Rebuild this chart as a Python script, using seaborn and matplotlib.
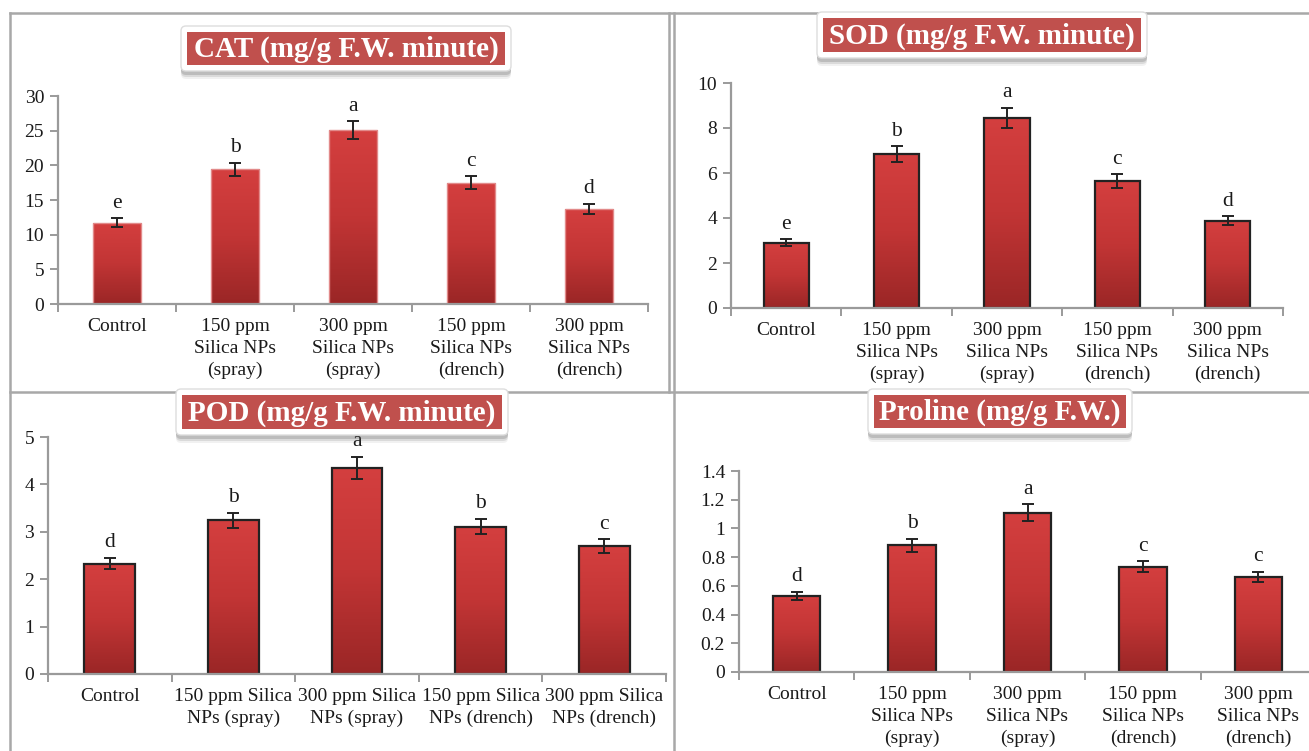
import numpy as np
import matplotlib
matplotlib.use("Agg")
import matplotlib.pyplot as plt
import seaborn as sns
from matplotlib.patches import FancyBboxPatch, Rectangle
from matplotlib.colors import LinearSegmentedColormap
from matplotlib.lines import Line2D
from matplotlib.transforms import Affine2D

# ---------------- data ----------------
categories = ["Control", "150 ppm\nSilica NPs\n(spray)", "300 ppm\nSilica NPs\n(spray)",
              "150 ppm\nSilica NPs\n(drench)", "300 ppm\nSilica NPs\n(drench)"]
categories_pod = ["Control", "150 ppm Silica\nNPs (spray)", "300 ppm Silica\nNPs (spray)",
                  "150 ppm Silica\nNPs (drench)", "300 ppm Silica\nNPs (drench)"]

cat_values = [11.7, 19.4, 25.1, 17.5, 13.7]
cat_errors = [0.65, 1.0, 1.25, 0.9, 0.72]
cat_letters = ["e", "b", "a", "c", "d"]

sod_values = [2.9, 6.83, 8.46, 5.64, 3.87]
sod_errors = [0.16, 0.35, 0.44, 0.3, 0.2]
sod_letters = ["e", "b", "a", "c", "d"]

pod_values = [2.33, 3.24, 4.35, 3.11, 2.70]
pod_errors = [0.12, 0.165, 0.23, 0.16, 0.14]
pod_letters = ["d", "b", "a", "b", "c"]

proline_values = [0.53, 0.883, 1.11, 0.732, 0.665]
proline_errors = [0.029, 0.044, 0.058, 0.038, 0.035]
proline_letters = ["d", "b", "a", "c", "c"]

titles = ["CAT (mg/g F.W. minute)", "SOD (mg/g F.W. minute)",
          "POD (mg/g F.W. minute)", "Proline (mg/g F.W.)"]

# ---------------- style ----------------
plt.rcParams["font.family"] = ["Liberation Serif", "DejaVu Serif"]
W, H = 1309, 751
fig = plt.figure(figsize=(W / 100, H / 100), dpi=100)
fig.patch.set_facecolor("white")
pix = Affine2D().scale(1 / W, -1 / H).translate(0, 1) + fig.transFigure

GRID = "#9a9a9a"
TXT = "#1a1a1a"
cmap = LinearSegmentedColormap.from_list("bar", ["#9a2626", "#c23535", "#d43f3f"])
grad = np.linspace(0, 1, 256).reshape(-1, 1)


def add_axes(left, right, top, bottom):
    return fig.add_axes([left / W, 1 - bottom / H, (right - left) / W, (bottom - top) / H])


def draw_panel(ax, labels, values, errors, letters, ymax, ystep, edge, lw, fmt):
    sns.barplot(x=labels, y=values, ax=ax, color="#c23535", width=0.41, saturation=1,
                edgecolor=edge, linewidth=lw)
    for p in list(ax.patches):
        x0, w, h = p.get_x(), p.get_width(), p.get_height()
        im = ax.imshow(grad, extent=[x0, x0 + w, 0, h], origin="lower", cmap=cmap,
                       aspect="auto", zorder=p.get_zorder() - 0.05)
        im.set_clip_path(p)
        p.set_facecolor("none")
    ax.errorbar(x=np.arange(len(values)), y=values, yerr=errors, fmt="none",
                ecolor="#222222", elinewidth=1.4, capsize=4.5, capthick=1.4, zorder=5)
    for i, (v, e, l) in enumerate(zip(values, errors, letters)):
        ax.annotate(l, xy=(i, v + e), xytext=(0, 4), textcoords="offset points",
                    ha="center", va="bottom", fontsize=15.5, color=TXT, annotation_clip=False)
    ax.set_xlim(-0.5, len(values) - 0.5)
    ax.set_ylim(0, ymax)
    ticks = np.arange(0, ymax + ystep / 2, ystep)
    ax.set_yticks(ticks)
    ax.set_yticklabels([fmt(t) for t in ticks])
    ax.set_xticks(np.arange(-0.5, len(values)), minor=True)
    ax.set_xlabel("")
    ax.set_ylabel("")
    for s in ["top", "right"]:
        ax.spines[s].set_visible(False)
    for s in ["left", "bottom"]:
        ax.spines[s].set_color(GRID)
        ax.spines[s].set_linewidth(1.6)
    ax.tick_params(axis="x", which="major", length=0, pad=10, labelsize=14, labelcolor=TXT)
    ax.tick_params(axis="x", which="minor", length=6, width=1.4, color=GRID, direction="out")
    ax.tick_params(axis="y", length=6, width=1.4, color=GRID, pad=4, labelsize=14,
                   labelcolor=TXT, direction="out")
    for t in ax.get_xticklabels():
        t.set_linespacing(1.38)
    ax.set_facecolor("none")


def draw_title(text, x0, x1, y0, y1, size):
    # shadow
    for k, a in [(8, 0.08), (6, 0.14), (4, 0.22)]:
        fig.patches.append(FancyBboxPatch((x0 - 6, y0 - 6 + k), (x1 - x0) + 12, (y1 - y0) + 12,
                                          boxstyle="round,pad=0,rounding_size=5",
                                          transform=pix, facecolor="#555555", edgecolor="none",
                                          alpha=a, zorder=10))
    fig.patches.append(FancyBboxPatch((x0 - 6, y0 - 6), (x1 - x0) + 12, (y1 - y0) + 12,
                                      boxstyle="round,pad=0,rounding_size=5", transform=pix,
                                      facecolor="white", edgecolor="#dddddd", linewidth=1,
                                      zorder=11))
    fig.patches.append(Rectangle((x0, y0), x1 - x0, y1 - y0, transform=pix,
                                 facecolor="#c0504d", edgecolor="none", zorder=12))
    fig.text((x0 + x1) / 2 / W, 1 - ((y0 + y1) / 2 + 1) / H, text, color="white",
             fontsize=size, fontweight="bold", ha="center", va="center", zorder=13)


# ---------------- panel borders ----------------
for (xa, ya, xb, yb) in [(10, 13, 1309, 13), (10, 13, 10, 751), (674, 13, 674, 751),
                         (10, 392, 1309, 392), (669, 13, 669, 392)]:
    fig.lines.append(Line2D([xa, xb], [ya, yb], transform=pix, color="#a8a8a8", linewidth=1.8))

fmt_int = lambda t: f"{t:g}"

ax1 = add_axes(58, 648, 96, 304)
draw_panel(ax1, categories, cat_values, cat_errors, cat_letters, 30, 5, "#e28a8a", 1.0, fmt_int)

ax2 = add_axes(731, 1283, 83, 308)
draw_panel(ax2, categories, sod_values, sod_errors, sod_letters, 10, 2, "#222222", 1.6, fmt_int)

ax3 = add_axes(48, 666, 437, 674)
draw_panel(ax3, categories_pod, pod_values, pod_errors, pod_letters, 5, 1, "#222222", 1.6, fmt_int)

ax4 = add_axes(739, 1316, 471, 672)
draw_panel(ax4, categories, proline_values, proline_errors, proline_letters, 1.4, 0.2,
           "#222222", 1.6, lambda t: f"{round(t, 1):g}")

draw_title(titles[0], 187, 505, 32, 65, 21)
draw_title(titles[1], 823, 1141, 18, 52, 21)
draw_title(titles[2], 182, 502, 395, 429, 21)
draw_title(titles[3], 874, 1126, 395, 428, 21)

fig.savefig("out.png", dpi=100)
